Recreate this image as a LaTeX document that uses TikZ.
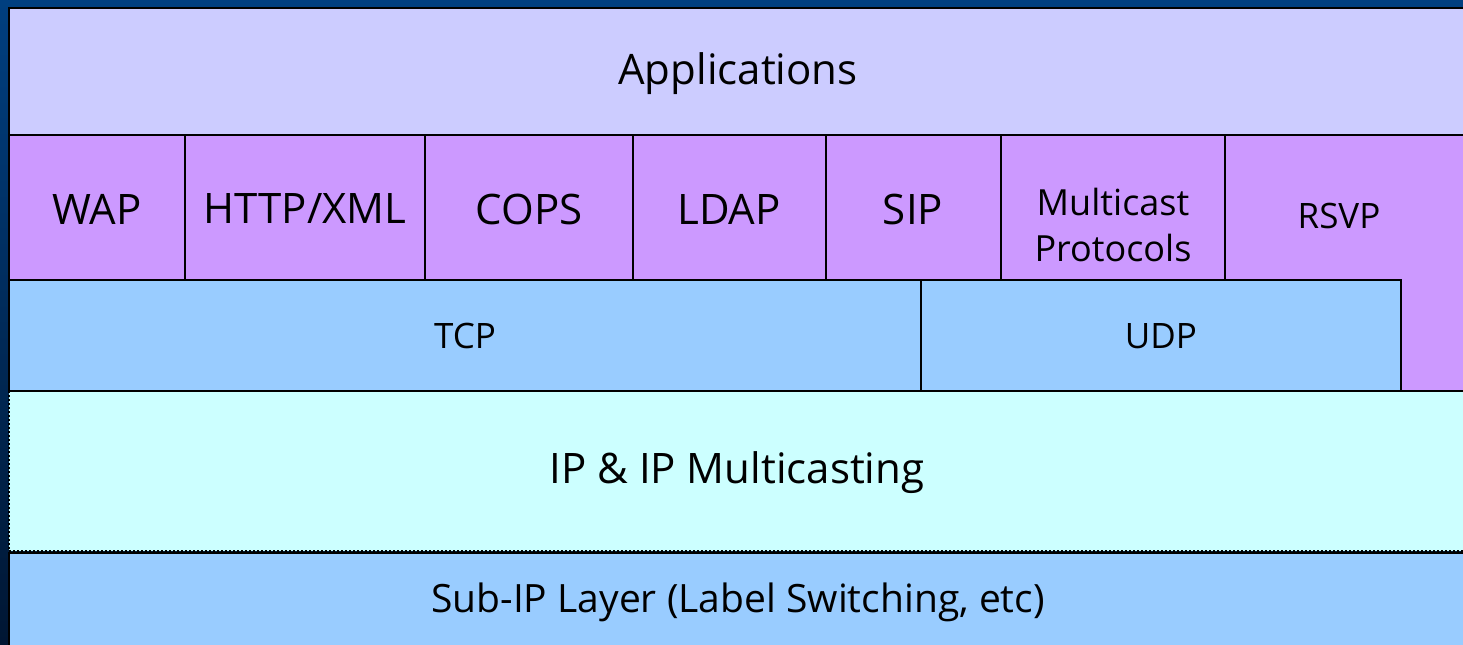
\documentclass[tikz,border=0pt]{standalone}
\usepackage{fontspec}
\setmainfont{Open Sans}
\usepackage{tikz}
\usetikzlibrary{calc, positioning}

\definecolor{frametop}{HTML}{003F80}
\definecolor{framebot}{HTML}{001633}
\definecolor{appfill}{HTML}{CCCCFF}
\definecolor{protofill}{HTML}{CC99FF}
\definecolor{transfill}{HTML}{99CCFF}
\definecolor{ipfill}{HTML}{CCFFFF}

\tikzset{
	layerbox/.style={draw=black, line width=1pt},
	biglbl/.style={font=\fontsize{21}{26}\selectfont},
	midlbl/.style={font=\fontsize{17.5}{21}\selectfont},
	mclbl/.style={font=\fontsize{18}{22}\selectfont, align=center},
	sublbl/.style={font=\fontsize{19.5}{23}\selectfont}
}

\begin{document}
\begin{tikzpicture}[x=0.5pt, y=-0.5pt]
	\useasboundingbox (0,0) rectangle (1463,644);
	\clip (0,0) rectangle (1463,644);
	
	% dark blue frame behind the stack
	\shade[top color=frametop, bottom color=framebot] (0,0) rectangle (1463,644);
	
	% applications layer
	\filldraw[layerbox, fill=appfill] (9,8) rectangle (1480,135);
	\node[biglbl] (app) at (738,74) {Applications};
	
	% application protocols
	\filldraw[layerbox, fill=protofill] (9,135) rectangle (185,280);
	\filldraw[layerbox, fill=protofill] (185,135) rectangle (425,280);
	\filldraw[layerbox, fill=protofill] (425,135) rectangle (633,280);
	\filldraw[layerbox, fill=protofill] (633,135) rectangle (826,280);
	\filldraw[layerbox, fill=protofill] (826,135) rectangle (1001,280);
	\filldraw[layerbox, fill=protofill] (1001,135) rectangle (1225,280);
	\filldraw[layerbox, fill=protofill]
		(1225,135) -- (1480,135) -- (1480,391) -- (1401,391) -- (1401,280) -- (1225,280) -- cycle;
	\node[biglbl] (wap) at (97,209) {WAP};
	\node[biglbl] (http) at (305,209) {HTTP/XML};
	\node[biglbl] (cops) at (529,209) {COPS};
	\node[biglbl] (ldap) at (729,209) {LDAP};
	\node[biglbl] (sip) at (913,209) {SIP};
	\node[mclbl] (mcast) at (1113,225) {Multicast\\[1pt]Protocols};
	\node[midlbl] (rsvp) at (1339,216) {RSVP};
	
	% transport layer
	\filldraw[layerbox, fill=transfill] (9,280) rectangle (921,391);
	\filldraw[layerbox, fill=transfill] (921,280) rectangle (1401,391);
	\node[midlbl] (tcp) at (465,336) {TCP};
	\node[midlbl] (udp) at (1161,336) {UDP};
	
	% sub-IP layer
	\filldraw[layerbox, fill=transfill] (9,553) rectangle (1480,660);
	\node[sublbl] (subip) at (738,602) {Sub-IP Layer (Label Switching, etc)};
	
	% network layer
	\filldraw[layerbox, densely dotted, fill=ipfill] (9,391) rectangle (1480,551);
	\draw[layerbox] (9,391) -- (1480,391);
	\node[biglbl] (ip) at (737,473) {IP \& IP Multicasting};
\end{tikzpicture}
\end{document}
